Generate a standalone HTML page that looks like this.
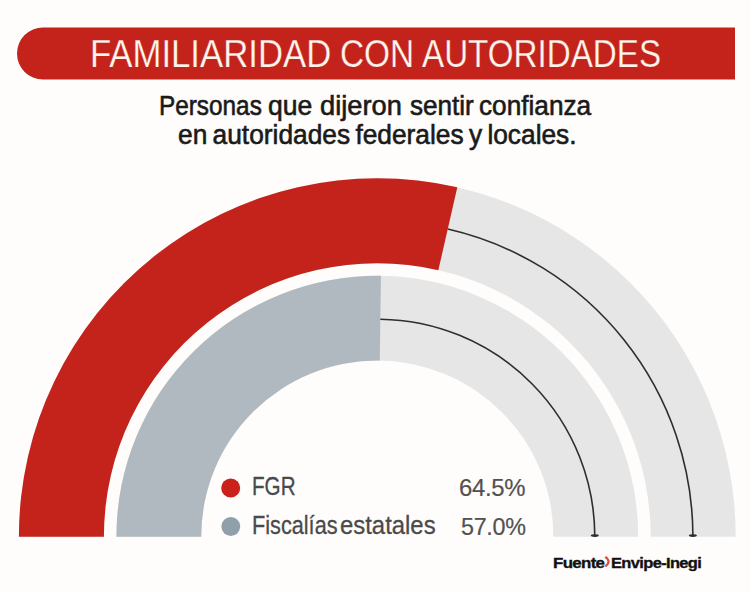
<!DOCTYPE html>
<html><head><meta charset="utf-8">
<style>
html,body{margin:0;padding:0;}
body{width:750px;height:593px;background:#FEFDFB;position:relative;overflow:hidden;font-family:"Liberation Sans",sans-serif;}
.t{position:absolute;white-space:nowrap;line-height:1;transform-origin:0 0;}
#src span{color:#C4231C;}
</style></head><body>
<svg width="750" height="593" viewBox="0 0 750 593" style="position:absolute;left:0;top:0">
<path d="M18.90,536.70 A358.4,358.4 0 0 1 735.70,536.70 L650.70,536.70 A273.4,273.4 0 0 0 103.90,536.70 Z" fill="#E6E6E7"/>
<path d="M116.40,536.70 A260.9,260.9 0 0 1 638.20,536.70 L553.40,536.70 A176.1,176.1 0 0 0 201.20,536.70 Z" fill="#E6E6E7"/>
<path d="M18.90,536.70 A358.4,358.4 0 0 1 457.31,187.35 L438.34,270.20 A273.4,273.4 0 0 0 103.90,536.70 Z" fill="#C4231C"/>
<path d="M116.40,536.70 A260.9,260.9 0 0 1 380.94,275.83 L379.76,360.62 A176.1,176.1 0 0 0 201.20,536.70 Z" fill="#B0B9BF"/>
<path d="M447.76,229.07 A315.6,315.6 0 0 1 692.90,536.70" fill="none" stroke="#2e2e2e" stroke-width="1.6"/>
<path d="M380.34,319.22 A217.5,217.5 0 0 1 594.80,536.70" fill="none" stroke="#2e2e2e" stroke-width="1.6"/>
<ellipse cx="692.90" cy="535.6" rx="4" ry="1.3" fill="#2e2e2e"/>
<ellipse cx="594.80" cy="535.6" rx="4" ry="1.3" fill="#2e2e2e"/>
<path d="M17,27.5 H735 V79.5 H43 A26,26 0 0 1 43,27.5 Z" fill="#C4231C"/>
<circle cx="230.7" cy="488" r="9.5" fill="#CA221B"/>
<path d="M605.3,556.8 Q611.8,561.5 605.3,566.4" fill="none" stroke="#DC4A40" stroke-width="2.2"/>
<circle cx="230.8" cy="526.5" r="9.4" fill="#8FA0AA"/>
</svg>
<div class="t" id="ta" style="left:90.29px;top:35.05px;font-size:38.4px;transform:scaleX(0.9046);font-weight:normal;color:#FDF5EC;word-spacing:0px;letter-spacing:0px;-webkit-text-stroke:0.25px #C4231C;">FAMILIARIDAD</div>
<div class="t" id="tb" style="left:339.66px;top:35.05px;font-size:38.4px;transform:scaleX(0.87);font-weight:normal;color:#FDF5EC;word-spacing:0px;letter-spacing:0px;-webkit-text-stroke:0.25px #C4231C;">CON</div>
<div class="t" id="tc" style="left:422.3px;top:35.05px;font-size:38.4px;transform:scaleX(0.8644);font-weight:normal;color:#FDF5EC;word-spacing:0px;letter-spacing:0px;-webkit-text-stroke:0.25px #C4231C;">AUTORIDADES</div>
<div class="t" id="s1a" style="left:158.78px;top:92.85px;font-size:26.8px;transform:scaleX(0.9081);font-weight:normal;color:#1a1a1a;word-spacing:0px;letter-spacing:0px;-webkit-text-stroke:0.6px #1a1a1a;">Personas</div>
<div class="t" id="s1b" style="left:267.91px;top:92.85px;font-size:26.8px;transform:scaleX(0.9907);font-weight:normal;color:#1a1a1a;word-spacing:0px;letter-spacing:0px;-webkit-text-stroke:0.6px #1a1a1a;">que</div>
<div class="t" id="s1c" style="left:319.68px;top:92.85px;font-size:26.8px;transform:scaleX(1.0167);font-weight:normal;color:#1a1a1a;word-spacing:0px;letter-spacing:0px;-webkit-text-stroke:0.6px #1a1a1a;">dijeron</div>
<div class="t" id="s1d" style="left:410.0px;top:92.85px;font-size:26.8px;transform:scaleX(0.9738);font-weight:normal;color:#1a1a1a;word-spacing:0px;letter-spacing:0px;-webkit-text-stroke:0.6px #1a1a1a;">sentir</div>
<div class="t" id="s1e" style="left:479.02px;top:92.85px;font-size:26.8px;transform:scaleX(0.9781);font-weight:normal;color:#1a1a1a;word-spacing:0px;letter-spacing:0px;-webkit-text-stroke:0.6px #1a1a1a;">confianza</div>
<div class="t" id="s2" style="left:177.52px;top:121.95px;font-size:26.8px;transform:scaleX(0.9814);font-weight:normal;color:#1a1a1a;word-spacing:-2px;letter-spacing:0px;-webkit-text-stroke:0.6px #1a1a1a;">en autoridades federales y locales.</div>
<div class="t" id="l1" style="left:251.8px;top:474.4px;font-size:25.8px;transform:scaleX(0.8);font-weight:normal;color:#4a4a4a;word-spacing:0px;letter-spacing:0px;-webkit-text-stroke:0.3px #4a4a4a;">FGR</div>
<div class="t" id="l2a" style="left:251.52px;top:513.0px;font-size:25.8px;transform:scaleX(0.8404);font-weight:normal;color:#4a4a4a;word-spacing:0px;letter-spacing:0px;-webkit-text-stroke:0.3px #4a4a4a;">Fiscalías</div>
<div class="t" id="l2b" style="left:339.77px;top:513.0px;font-size:25.8px;transform:scaleX(0.9257);font-weight:normal;color:#4a4a4a;word-spacing:0px;letter-spacing:0px;-webkit-text-stroke:0.3px #4a4a4a;">estatales</div>
<div class="t" id="p1" style="left:459.17px;top:477.4px;font-size:23.2px;transform:scaleX(1.0317);font-weight:normal;color:#525252;word-spacing:0px;letter-spacing:-0.3px;-webkit-text-stroke:0.2px #525252;">64.5%</div>
<div class="t" id="p2" style="left:460.59px;top:515.8px;font-size:23.2px;transform:scaleX(1.0063);font-weight:normal;color:#525252;word-spacing:0px;letter-spacing:-0.3px;-webkit-text-stroke:0.2px #525252;">57.0%</div>
<div class="t" id="srca" style="left:553.39px;top:554.76px;font-size:15.2px;transform:scaleX(1.1111);font-weight:bold;color:#111;word-spacing:0px;letter-spacing:-0.6px;-webkit-text-stroke:0.35px #111;">Fuente</div>
<div class="t" id="srcb" style="left:611.21px;top:554.76px;font-size:15.2px;transform:scaleX(1.0854);font-weight:bold;color:#111;word-spacing:0px;letter-spacing:-0.6px;-webkit-text-stroke:0.35px #111;">Envipe-Inegi</div>
</body></html>
